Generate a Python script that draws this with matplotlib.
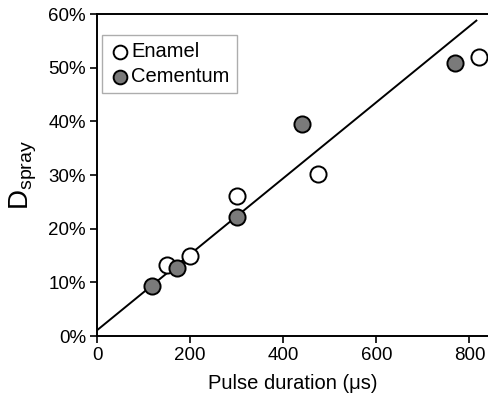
import matplotlib
matplotlib.use("Agg")
import matplotlib.pyplot as plt
from matplotlib.ticker import PercentFormatter

plt.rcParams["font.family"] = ["Liberation Sans", "DejaVu Sans"]
plt.rcParams["mathtext.default"] = "regular"

enamel_x = [150, 200, 300, 475, 820]
enamel_y = [0.132, 0.150, 0.262, 0.302, 0.521]
cementum_x = [118, 172, 300, 440, 770]
cementum_y = [0.093, 0.127, 0.222, 0.396, 0.509]
fit_x = [0, 815]
fit_y = [0.011, 0.588]

fig = plt.figure(figsize=(4.88, 3.94), dpi=100)
ax = fig.add_axes([0.199, 0.147, 0.801, 0.817])

ax.plot(fit_x, fit_y, color="black", lw=1.4, zorder=2)
ax.scatter(enamel_x, enamel_y, s=135, facecolor="white", edgecolor="black",
           linewidth=1.4, zorder=3, label="Enamel")
ax.scatter(cementum_x, cementum_y, s=135, facecolor="#7a7a7a", edgecolor="black",
           linewidth=1.4, zorder=3, label="Cementum")

ax.set_xlim(0, 840)
ax.set_ylim(0, 0.6)
ax.set_xticks([0, 200, 400, 600, 800])
ax.set_yticks([0, 0.1, 0.2, 0.3, 0.4, 0.5, 0.6])
ax.yaxis.set_major_formatter(PercentFormatter(1.0, decimals=0))
ax.tick_params(labelsize=13.5, length=5, width=1.2, direction="out", pad=3)
for side in ["left", "bottom", "top"]:
    ax.spines[side].set_linewidth(1.4)
ax.spines["right"].set_visible(False)

ax.set_xlabel("Pulse duration (\u03bcs)", fontsize=14.5, labelpad=7)
ax.set_ylabel("D$_{spray}$", fontsize=20, labelpad=7)

leg = ax.legend(loc="upper left", bbox_to_anchor=(0.013, 0.935), fontsize=14.5,
                handletextpad=0.0, borderpad=0.35, labelspacing=0.3,
                handlelength=1.1, fancybox=False, markerscale=0.85,
                borderaxespad=0)
leg.get_frame().set_edgecolor("#999999")
leg.get_frame().set_linewidth(1.0)

fig.savefig("out.png", dpi=100)
